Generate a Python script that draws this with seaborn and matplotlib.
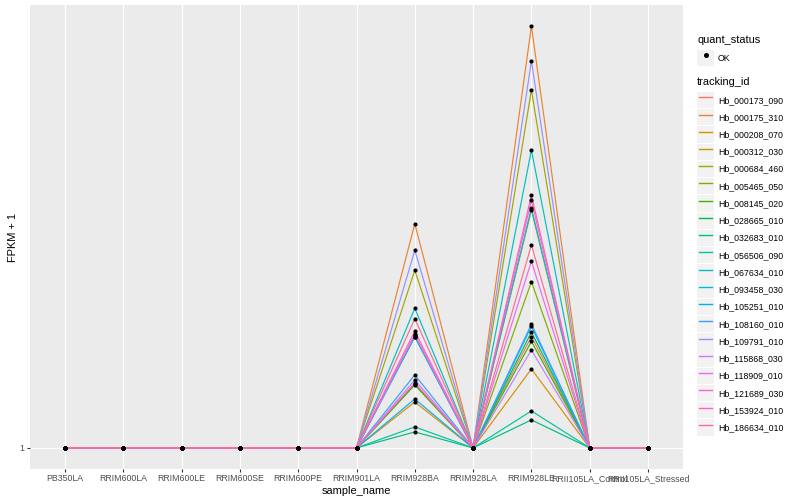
import matplotlib
matplotlib.use("Agg")
import matplotlib.pyplot as plt
import numpy as np
import pandas as pd
import seaborn as sns
from matplotlib.legend_handler import HandlerLine2D
from matplotlib.patches import Rectangle
from matplotlib.lines import Line2D
from matplotlib.ticker import NullLocator

# ---------------- data ----------------
samples = ["PB350LA", "RRIM600LA", "RRIM600LE", "RRIM600SE", "RRIM600PE",
           "RRIM901LA", "RRIM928BA", "RRIM928LA", "RRIM928LE",
           "RRII105LA_Control", "RRII105LA_Stressed"]

tracking_ids = ["Hb_000173_090", "Hb_000175_310", "Hb_000208_070", "Hb_000312_030",
                "Hb_000684_460", "Hb_005465_050", "Hb_008145_020", "Hb_028665_010",
                "Hb_032683_010", "Hb_056506_090", "Hb_067634_010", "Hb_093458_030",
                "Hb_105251_010", "Hb_108160_010", "Hb_109791_010", "Hb_115868_030",
                "Hb_118909_010", "Hb_121689_030", "Hb_153924_010", "Hb_186634_010"]

colors = ["#F8766D", "#EA8331", "#D89000", "#C09B00", "#A3A500", "#7CAE00",
          "#39B600", "#00BB4E", "#00BF7D", "#00C1A3", "#00BFC4", "#00BAE0",
          "#00B0F6", "#35A2FF", "#9590FF", "#C77CFF", "#E76BF3", "#FA62DB",
          "#FF62BC", "#FF6C91"]

# FPKM + 1 per tracking_id at the two samples with expression; all others are 1
baseline_value = 1.0
rrim928ba = [1.75, 3.02, 1.254, 1.74, 2.40, 1.37, 1.364, 1.73, 1.082, 1.109,
             1.99, 1.73, 1.273, 1.433, 2.65, 1.398, 1.745, 1.78, 1.378, 1.89]
rrim928le = [1.73, 8.0, 1.476, 3.23, 5.84, 2.27, 1.69, 1.77, 1.148, 1.20,
             4.34, 3.26, 1.82, 1.84, 6.73, 1.62, 2.51, 3.39, 3.48, 2.72]

quant_status = "OK"

rows = []
for i, tid in enumerate(tracking_ids):
    for s in samples:
        if s == "RRIM928BA":
            v = rrim928ba[i]
        elif s == "RRIM928LE":
            v = rrim928le[i]
        else:
            v = baseline_value
        rows.append({"tracking_id": tid, "sample_name": s, "fpkm": v,
                     "quant_status": quant_status})
df = pd.DataFrame(rows)

# ---------------- style ----------------
plt.rcParams["font.family"] = ["Liberation Sans", "DejaVu Sans"]

fig = plt.figure(figsize=(8, 5), dpi=100)
ax = fig.add_axes([30 / 800, 31 / 500, 653 / 800, 464 / 500])
ax.set_facecolor("#EBEBEB")
for sp in ax.spines.values():
    sp.set_visible(False)

ax.set_yscale("log")
sns.lineplot(data=df, x="sample_name", y="fpkm", hue="tracking_id",
             hue_order=tracking_ids, palette=colors, sort=False,
             estimator=None, linewidth=0.85, legend=False, ax=ax)
sns.scatterplot(data=df, x="sample_name", y="fpkm", color="black", s=9,
                linewidth=0, legend=False, ax=ax, zorder=3)

ax.set_xlim(-0.6, len(samples) - 0.4)
ymax = max(max(rrim928ba), max(rrim928le))
lo, hi = np.log10(1.0), np.log10(ymax)
ax.set_ylim(10 ** (lo - 0.05 * (hi - lo)), 10 ** (hi + 0.05 * (hi - lo)))
ax.set_yticks([1])
ax.set_yticklabels(["1"])
ax.yaxis.set_minor_locator(NullLocator())

ax.grid(True, which="major", color="white", linewidth=0.8)
ax.set_axisbelow(True)
ax.tick_params(axis="both", length=2.0, width=0.8, color="#333333",
               labelsize=6.3, labelcolor="#4D4D4D", pad=1.8)
ax.set_xlabel("sample_name", fontsize=7.9, labelpad=2.0, color="black")
ax.set_ylabel("FPKM + 1", fontsize=7.9, labelpad=1.5, color="black")


class KeyHandler(HandlerLine2D):
    def create_artists(self, legend, orig_handle, xdescent, ydescent, width,
                       height, fontsize, trans):
        rect = Rectangle((-xdescent, -ydescent), width, height,
                         facecolor="#F2F2F2", edgecolor="none", transform=trans)
        arts = super().create_artists(legend, orig_handle, xdescent, ydescent,
                                      width, height, fontsize, trans)
        for a in arts:
            if isinstance(a, Line2D) and a.get_linestyle() not in ("None", "none", ""):
                yy = a.get_ydata()[0]
                inset = width * 0.12
                a.set_data([-xdescent + inset, -xdescent + width - inset], [yy, yy])
        return [rect] + arts


common = dict(frameon=False, fontsize=6.3, title_fontsize=7.9,
              handlelength=1.95, handleheight=2.5, labelspacing=0.1,
              handletextpad=0.45, borderpad=0, borderaxespad=0,
              alignment="left", numpoints=1)

h1 = [Line2D([], [], color="black", marker="o", markersize=2.6,
             linestyle="None")]
leg1 = fig.legend(h1, [quant_status], title="quant_status", loc="upper left",
                  bbox_to_anchor=(697 / 800, 1 - 35 / 500),
                  handler_map={Line2D: KeyHandler()}, **common)

h2 = [Line2D([], [], color=c, linewidth=1.0) for c in colors]
leg2 = fig.legend(h2, tracking_ids, title="tracking_id", loc="upper left",
                  bbox_to_anchor=(697 / 800, 1 - 77 / 500),
                  handler_map={Line2D: KeyHandler()}, **common)
for leg in (leg1, leg2):
    leg._legend_box.sep = 3.5
    for t in leg.get_texts():
        t.set_color("black")

fig.savefig("out.png", dpi=100)
